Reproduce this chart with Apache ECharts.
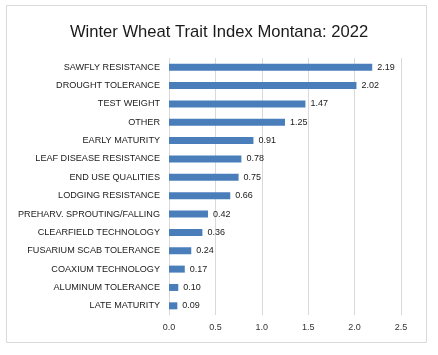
<!DOCTYPE html>
<html><head><meta charset="utf-8">
<script src="https://cdn.jsdelivr.net/npm/echarts@6/dist/echarts.min.js"></script>
<style>html,body{margin:0;padding:0;background:#fff}#c{width:438px;height:355px}</style>
</head><body><div id="c"></div>
<script>
const categories = ["SAWFLY RESISTANCE","DROUGHT TOLERANCE","TEST WEIGHT","OTHER","EARLY MATURITY","LEAF DISEASE RESISTANCE","END USE QUALITIES","LODGING RESISTANCE","PREHARV. SPROUTING/FALLING","CLEARFIELD TECHNOLOGY","FUSARIUM SCAB TOLERANCE","COAXIUM TECHNOLOGY","ALUMINUM TOLERANCE","LATE MATURITY"];
const values = [2.19,2.02,1.47,1.25,0.91,0.78,0.75,0.66,0.42,0.36,0.24,0.17,0.10,0.09];
const chart = echarts.init(document.getElementById('c'), null, {renderer:'canvas'});
chart.setOption({
  animation:false,
  backgroundColor:'#fff',
  graphic:[{type:'rect',shape:{x:6.5,y:5.5,width:420,height:337},style:{fill:'none',stroke:'#d9d9d9',lineWidth:1},silent:true}],
  title:{text:'Winter Wheat Trait Index Montana: 2022',left:'center',top:19,textStyle:{fontFamily:'Liberation Sans',fontSize:16.6,fontWeight:'normal',color:'#1a1a1a'}},
  grid:{left:169,right:37,top:58,bottom:40,containLabel:false},
  xAxis:{type:'value',min:0,max:2.5,interval:0.5,
    axisLabel:{formatter:v=>v.toFixed(1),fontFamily:'Liberation Sans',fontSize:9,color:'#333',margin:8},
    axisLine:{show:false},axisTick:{show:false},
    splitLine:{show:true,lineStyle:{color:'#d9d9d9',width:1}}},
  yAxis:{type:'category',data:categories,inverse:true,
    axisLabel:{fontFamily:'Liberation Sans',fontSize:9.1,color:'#1a1a1a',margin:9},
    axisLine:{show:false},axisTick:{show:false}},
  series:[{type:'bar',data:values,barWidth:7,itemStyle:{color:'#4a7ebb'},
    label:{show:true,position:'right',distance:5,formatter:p=>p.value.toFixed(2),fontFamily:'Liberation Sans',fontSize:9,color:'#1a1a1a'}}]
});
</script></body></html>
